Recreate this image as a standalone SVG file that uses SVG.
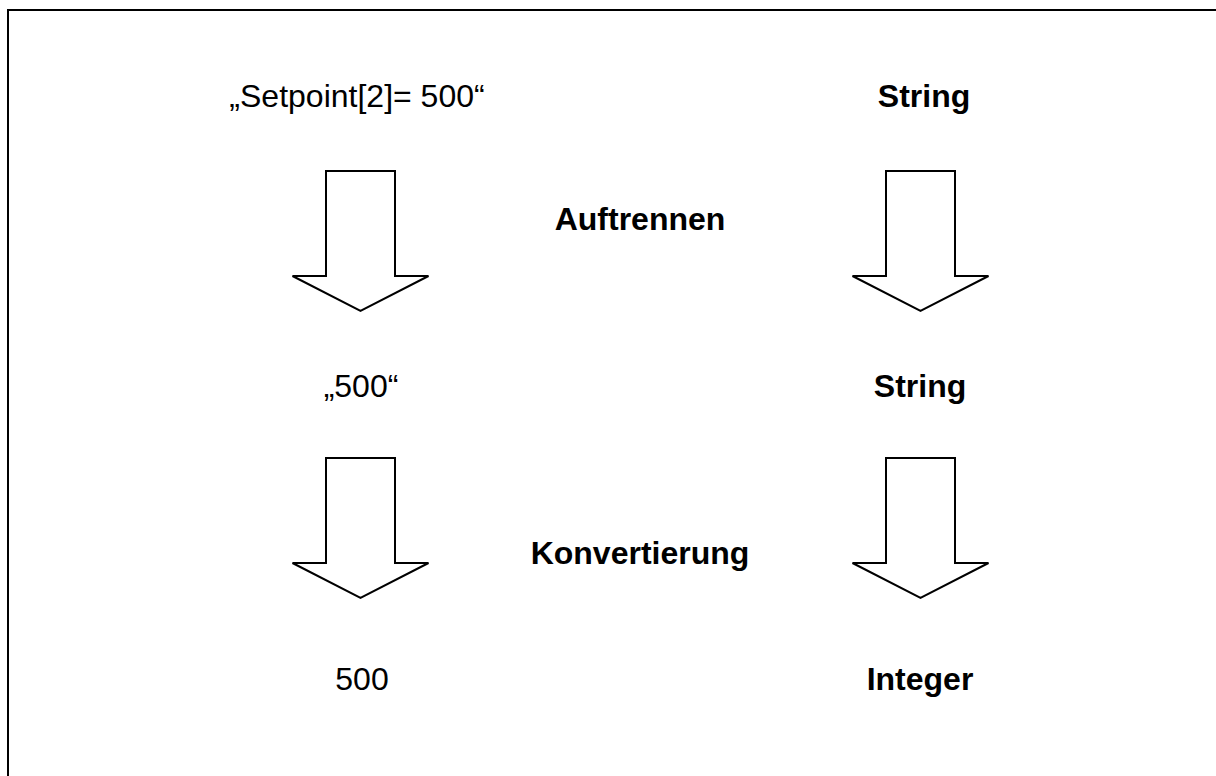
<svg xmlns="http://www.w3.org/2000/svg" width="1216" height="776" viewBox="0 0 1216 776">
<style>
.t{font-family:"Liberation Sans",Arial,sans-serif;font-size:32px;fill:#000;text-anchor:middle}
.b{font-weight:bold}
.arrow{fill:#fff;stroke:#000;stroke-width:2;stroke-linejoin:miter}
</style>
<defs>
<path id="arr" d="M -34.5 0 L 34.5 0 L 34.5 105 L 68 105 L 0 140 L -68 105 L -34.5 105 Z"/>
</defs>
<rect x="0" y="0" width="1216" height="776" fill="#fff"/>
<rect x="8" y="10" width="1230" height="790" fill="none" stroke="#000" stroke-width="2"/>
<g id="connectors">
<use href="#arr" class="arrow" x="360.5" y="171"/>
<use href="#arr" class="arrow" x="920.5" y="171"/>
<use href="#arr" class="arrow" x="360.5" y="458"/>
<use href="#arr" class="arrow" x="920.5" y="458"/>
</g>
<g id="n-setpoint"><text class="t" x="357" y="107">„Setpoint[2]= 500“</text></g>
<g id="n-string1"><text class="t b" x="924" y="107">String</text></g>
<g id="n-auftrennen"><text class="t b" x="640" y="230">Auftrennen</text></g>
<g id="n-500str"><text class="t" x="361" y="397">„500“</text></g>
<g id="n-string2"><text class="t b" x="920" y="397">String</text></g>
<g id="n-konvertierung"><text class="t b" x="640" y="564">Konvertierung</text></g>
<g id="n-500"><text class="t" x="362" y="690">500</text></g>
<g id="n-integer"><text class="t b" x="920" y="690">Integer</text></g>
</svg>
